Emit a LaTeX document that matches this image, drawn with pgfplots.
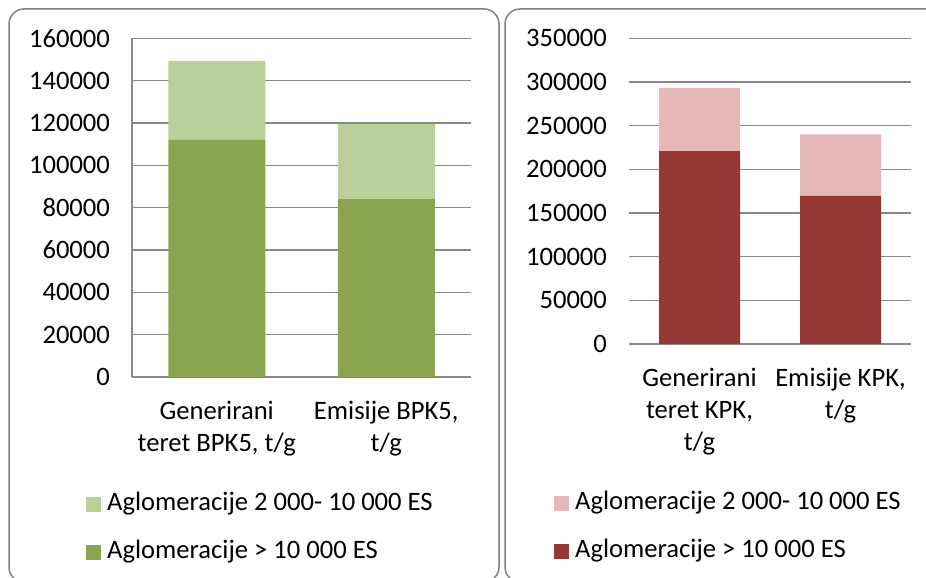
\documentclass[border=0pt]{standalone}
\usepackage{fontspec}
\setmainfont{Carlito}
\usepackage{pgfplots}
\pgfplotsset{compat=1.18}
\definecolor{gridgray}{HTML}{888888}
\definecolor{bordergray}{HTML}{808080}
\definecolor{lgreen}{HTML}{BBCF9A}
\definecolor{dgreen}{HTML}{8AA54E}
\definecolor{lpink}{HTML}{E6B9B8}
\definecolor{dred}{HTML}{953735}
\pgfplotsset{
  mystyle/.style={
    scale only axis,
    font=\fontsize{13.3}{16}\selectfont,
    ybar stacked,
    xmin=-0.5, xmax=1.5, ymin=0,
    xtick=data,
    axis lines*=left,
    axis line style={draw=gridgray, line width=0.75pt},
    ymajorgrids, grid style={gridgray, line width=0.75pt},
    major tick length=0pt,
    scaled y ticks=false,
    yticklabel={\pgfmathparse{int(\tick)}\pgfmathresult},
    yticklabel style={xshift=-7.5pt},
    xticklabel style={align=center, yshift=-8.7pt},
    reverse legend,
    legend cell align=left,
    legend image code/.code={\fill[##1] (0pt,-3.7pt) rectangle (7.4pt,3.7pt);},
    legend style={draw=none, fill=none, inner sep=0pt, outer sep=0pt, anchor=north west,
      row sep=12pt, column sep=3.2pt,
      nodes={inner sep=0pt, outer sep=0pt, text height=9pt, text depth=3pt}},
  }
}
\begin{document}
\begin{tikzpicture}
\path[use as bounding box] (0pt,0pt) rectangle (463pt,289pt);
\begin{scope}
\clip (0pt,0pt) rectangle (463pt,289pt);
\draw[bordergray, line width=0.75pt, rounded corners=7.5pt] (4.5pt,-2pt) rectangle (249.5pt,284.5pt);
\draw[bordergray, line width=0.75pt, rounded corners=7.5pt] (252.5pt,-2pt) rectangle (475pt,284.5pt);
\end{scope}
\begin{axis}[mystyle,
  at={(66pt,100.5pt)}, anchor=south west,
  width=169.5pt, height=169.35pt,
  bar width=48.5pt,
  ymax=160000, ytick={0,20000,40000,60000,80000,100000,120000,140000,160000},
  xticklabels={{Generirani\\teret BPK5, t/g},{Emisije BPK5,\\t/g}},
  legend style={at={(-0.1357,-0.3416)}},
]
\addplot[fill=dgreen, draw=none] coordinates {(0,112000) (1,84000)};
\addplot[fill=lgreen, draw=none] coordinates {(0,37300) (1,35500)};
\legend{Aglomeracije > 10 000 ES, Aglomeracije 2 000- 10 000 ES}
\end{axis}
\begin{axis}[mystyle,
  at={(314.5pt,117pt)}, anchor=south west,
  width=141pt, height=152.85pt,
  bar width=40.5pt,
  y axis line style={draw=none},
  ymax=350000, ytick={0,50000,100000,150000,200000,250000,300000,350000},
  xticklabels={{Generirani\\teret KPK,\\t/g},{Emisije KPK,\\t/g}},
  legend style={at={(-0.266,-0.4831)}},
]
\addplot[fill=dred, draw=none] coordinates {(0,220800) (1,169500)};
\addplot[fill=lpink, draw=none] coordinates {(0,72500) (1,70400)};
\legend{Aglomeracije > 10 000 ES, Aglomeracije 2 000- 10 000 ES}
\end{axis}
\end{tikzpicture}
\end{document}
